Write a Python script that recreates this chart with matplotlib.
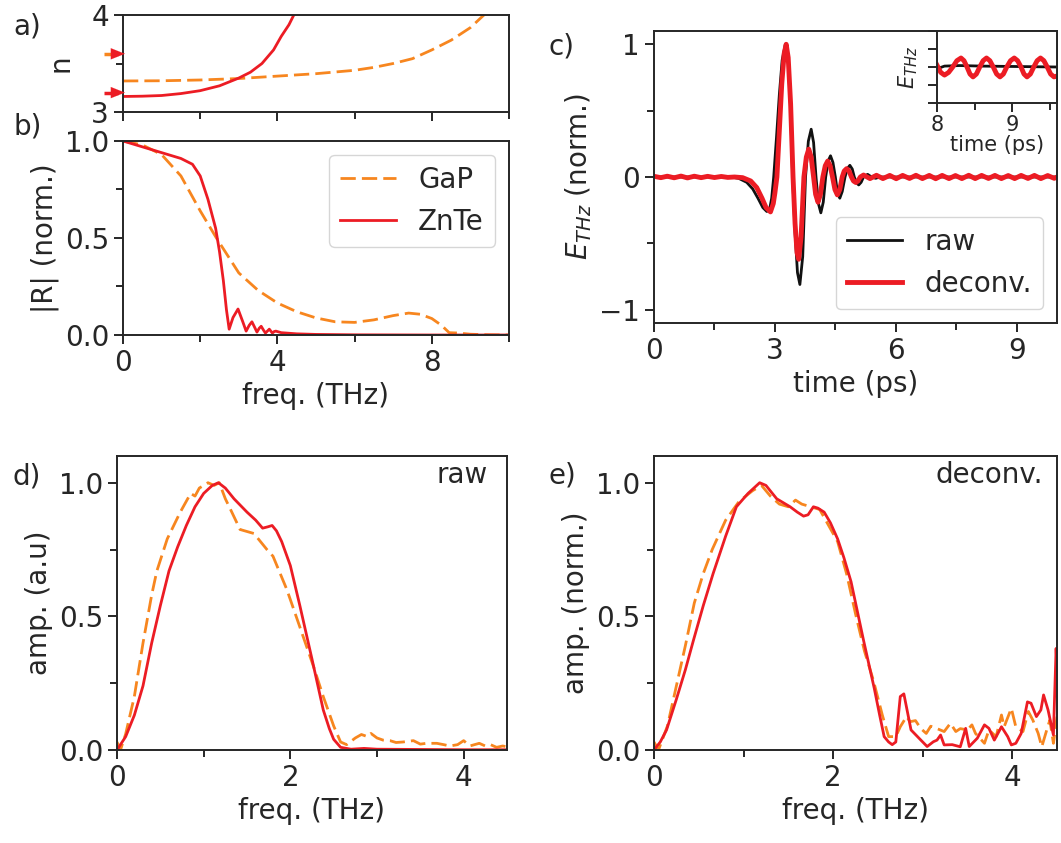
import matplotlib
matplotlib.use("Agg")
import matplotlib.pyplot as plt
from matplotlib.ticker import MultipleLocator, FixedLocator, NullFormatter, FormatStrFormatter

# ---- colours ----
ORANGE = '#f7861f'
RED = '#ec1c24'
INK = '#262626'

# ---- a) refractive index ----
f_n_gap = [0, 1, 2, 3, 4, 5, 6, 6.5, 7, 7.5, 8, 8.5, 9, 9.35, 9.6]
n_gap = [3.32, 3.322, 3.33, 3.345, 3.37, 3.395, 3.43, 3.46, 3.5, 3.55, 3.64, 3.74, 3.87, 4.0, 4.12]
f_n_znte = [0, 0.5, 1, 1.5, 2, 2.5, 3, 3.3, 3.6, 3.9, 4.1, 4.3, 4.45, 4.55]
n_znte = [3.16, 3.163, 3.17, 3.19, 3.22, 3.27, 3.35, 3.41, 3.5, 3.64, 3.78, 3.9, 4.02, 4.15]
n_group = [3.6, 3.2]   # arrows on the left axis (GaP, ZnTe)

# ---- b) response function ----
f_R_gap = [0, 0.5, 1.0, 1.5, 2.0, 2.42, 3.0, 3.5, 4.0, 4.5, 5.0, 5.5, 6.0, 6.5,
           7.0, 7.4, 7.7, 8.0, 8.25, 8.45, 8.7, 9.0, 9.5, 10.0]
R_gap = [1.0, 0.98, 0.93, 0.82, 0.64, 0.5, 0.32, 0.23, 0.165, 0.12, 0.088, 0.068, 0.065, 0.078,
         0.1, 0.113, 0.107, 0.085, 0.05, 0.012, 0.01, 0.004, 0.001, 0.0]
f_R_znte = [0, 0.5, 1.0, 1.5, 1.8, 2.0, 2.2, 2.4, 2.5, 2.6, 2.68, 2.75, 2.85, 2.98, 3.1, 3.19,
            3.27, 3.34, 3.41, 3.47, 3.53, 3.58, 3.64, 3.69, 3.74, 3.79, 3.83, 3.87, 3.92, 3.96,
            4.1, 4.5, 5.0, 6.0, 8.0, 10.0]
R_znte = [1.0, 0.97, 0.94, 0.91, 0.88, 0.82, 0.7, 0.55, 0.43, 0.28, 0.13, 0.03, 0.09, 0.134, 0.07, 0.02,
          0.05, 0.068, 0.04, 0.015, 0.035, 0.045, 0.025, 0.01, 0.02, 0.03, 0.02, 0.01, 0.018, 0.02,
          0.012, 0.006, 0.003, 0.001, 0.0, 0.0]

# ---- c) time traces ----
t_raw = [0.0, 1.0, 1.9, 2.1, 2.3, 2.45, 2.58, 2.7, 2.8, 2.87, 2.92, 2.97, 3.04, 3.11, 3.18, 3.26,
         3.33, 3.39, 3.44, 3.5, 3.56, 3.62, 3.69, 3.76, 3.83, 3.9, 3.96, 4.02, 4.08, 4.14, 4.2,
         4.26, 4.32, 4.38, 4.44, 4.5, 4.55, 4.61, 4.67, 4.74, 4.8, 4.86, 4.92, 4.97, 5.03, 5.08,
         5.14, 5.2, 5.3, 5.4, 5.5, 5.6, 6.0, 7.0, 8.0, 9.0, 10.0]
e_raw = [0.0, 0.0, 0.0, -0.01, -0.04, -0.09, -0.16, -0.23, -0.26, -0.24, -0.16, 0.0, 0.3, 0.62, 0.88, 1.0,
         0.88, 0.5, 0.0, -0.42, -0.72, -0.81, -0.6, 0.0, 0.27, 0.36, 0.26, 0.0, -0.2, -0.27, -0.19,
         0.0, 0.12, 0.16, 0.11, 0.0, -0.11, -0.16, -0.11, 0.0, 0.065, 0.088, 0.06, 0.0, -0.045, -0.06,
         -0.04, 0.0, 0.02, 0.0, -0.01, 0.0, 0.0, 0.0, 0.0, 0.0, 0.0]
t_dec = [0.0, 0.17, 0.33, 0.5, 0.67, 0.83, 1.0, 1.17, 1.33, 1.5, 1.67, 1.83, 2.0, 2.2, 2.4, 2.55,
         2.68, 2.78, 2.89, 2.96, 3.0, 3.05, 3.11, 3.17, 3.23, 3.28, 3.33, 3.39, 3.45, 3.5, 3.55,
         3.59, 3.65, 3.72, 3.78, 3.84, 3.9, 3.96, 4.01, 4.07, 4.13, 4.19, 4.25, 4.31, 4.37, 4.43,
         4.49, 4.55, 4.61, 4.67, 4.72, 4.78, 4.84, 4.9, 4.95, 5.01, 5.06, 5.12, 5.2, 5.36, 5.52,
         5.68, 5.85, 6.01, 6.17, 6.34, 6.5, 6.66, 6.83, 6.99, 7.15, 7.32, 7.48, 7.64, 7.81, 7.97,
         8.13, 8.3, 8.46, 8.62, 8.79, 8.95, 9.11, 9.28, 9.44, 9.6, 9.77, 9.93, 10.0]
e_dec = [0.005, -0.005, 0.006, -0.006, 0.007, -0.007, 0.006, -0.005, 0.005, -0.004, 0.004, -0.003,
         0.0, -0.005, -0.03, -0.08, -0.16, -0.23, -0.263, -0.2, -0.12, 0.0, 0.35, 0.7, 0.93, 1.0,
         0.9, 0.55, 0.0, -0.35, -0.57, -0.62, -0.45, 0.0, 0.15, 0.21, 0.15, 0.0, -0.13, -0.19,
         -0.13, 0.0, 0.085, 0.12, 0.085, 0.0, -0.095, -0.135, -0.095, 0.0, 0.045, 0.063, 0.045,
         0.0, -0.03, -0.042, -0.03, 0.0, 0.015, -0.012, 0.013, -0.012, 0.012, -0.013, 0.012,
         -0.011, 0.013, -0.012, 0.012, -0.013, 0.012, -0.012, 0.011, -0.012, 0.013, -0.012, 0.012,
         -0.011, 0.012, -0.012, 0.011, -0.012, 0.012, -0.011, 0.012, -0.012, 0.011, -0.01, 0.0]

# inset (zoom on the tail)
t_ins_dec = [8.0, 8.05, 8.1, 8.155, 8.21, 8.265, 8.32, 8.36, 8.4, 8.44, 8.48, 8.525, 8.57, 8.615,
             8.66, 8.705, 8.75, 8.795, 8.84, 8.885, 8.93, 8.98, 9.03, 9.075, 9.12, 9.16, 9.2,
             9.245, 9.29, 9.335, 9.38, 9.425, 9.47, 9.515, 9.56, 9.6]
e_ins_dec = [0.001, -0.003, -0.0045, -0.003, 0.0, 0.0035, 0.005, 0.0035, 0.0, -0.0039, -0.0055,
             -0.0039, 0.0, 0.0035, 0.005, 0.0035, 0.0, -0.0039, -0.0055, -0.0039, 0.0, 0.0035,
             0.005, 0.0035, 0.0, -0.0039, -0.0055, -0.0039, 0.0, 0.0035, 0.005, 0.0035, 0.0,
             -0.0039, -0.0055, -0.005]
t_ins_raw = [8.0, 8.1, 8.3, 8.6, 9.0, 9.6]
e_ins_raw = [-0.001, 0.0005, 0.0008, 0.0005, 0.0003, 0.0]

# ---- d) raw spectra ----
f_d_znte = [0, 0.1, 0.2, 0.3, 0.4, 0.5, 0.6, 0.7, 0.8, 0.9, 1.0, 1.1, 1.17, 1.25, 1.35, 1.5,
            1.6, 1.68, 1.74, 1.79, 1.84, 1.9, 2.0, 2.11, 2.25, 2.38, 2.45, 2.5, 2.58, 2.7,
            2.85, 3.0, 3.5, 4.0, 4.5]
A_d_znte = [0.0, 0.05, 0.13, 0.24, 0.4, 0.54, 0.67, 0.76, 0.84, 0.91, 0.96, 0.99, 1.0, 0.98, 0.94, 0.89,
            0.86, 0.83, 0.835, 0.84, 0.82, 0.78, 0.69, 0.54, 0.34, 0.15, 0.08, 0.04, 0.01, 0.003,
            0.006, 0.003, 0.002, 0.001, 0.001]
f_d_gap = [0, 0.04, 0.1, 0.2, 0.3, 0.4, 0.46, 0.58, 0.73, 0.85, 0.9, 0.95, 1.0, 1.05, 1.12, 1.18,
           1.25, 1.31, 1.42, 1.58, 1.73, 1.8, 1.96, 2.11, 2.27, 2.38, 2.5, 2.58, 2.65, 2.75, 2.82,
           2.89, 2.93, 3.0, 3.07, 3.15, 3.22, 3.3, 3.42, 3.5, 3.57, 3.69, 3.77, 3.84, 3.93, 4.0,
           4.07, 4.18, 4.25, 4.31, 4.38, 4.45, 4.5]
A_d_gap = [0.03, 0.0, 0.06, 0.2, 0.4, 0.58, 0.67, 0.79, 0.89, 0.96, 0.95, 0.98, 0.99, 1.0, 0.99, 1.0,
           0.94, 0.9, 0.825, 0.81, 0.75, 0.725, 0.6, 0.46, 0.31, 0.2, 0.09, 0.03, 0.02, 0.045, 0.058,
           0.05, 0.062, 0.045, 0.037, 0.035, 0.028, 0.03, 0.035, 0.022, 0.025, 0.025, 0.02, 0.015,
           0.02, 0.035, 0.015, 0.025, 0.015, 0.02, 0.01, 0.015, 0.012]

# ---- e) deconvolved spectra ----
f_e_znte = [0, 0.07, 0.14, 0.25, 0.35, 0.44, 0.55, 0.66, 0.8, 0.92, 1.05, 1.18, 1.25, 1.37, 1.52,
            1.6, 1.67, 1.72, 1.78, 1.83, 1.9, 1.97, 2.05, 2.12, 2.2, 2.27, 2.34, 2.4, 2.46, 2.52,
            2.57, 2.62, 2.66, 2.7, 2.75, 2.79, 2.87, 2.98, 3.05, 3.12, 3.16, 3.2, 3.24, 3.33, 3.42,
            3.48, 3.52, 3.61, 3.69, 3.74, 3.8, 3.88, 3.95, 3.99, 4.04, 4.1, 4.17, 4.21, 4.27, 4.32,
            4.35, 4.4, 4.46, 4.49, 4.5]
A_e_znte = [0.0, 0.03, 0.075, 0.19, 0.3, 0.41, 0.54, 0.66, 0.8, 0.91, 0.96, 1.0, 0.99, 0.94, 0.91,
            0.89, 0.875, 0.88, 0.91, 0.905, 0.89, 0.85, 0.79, 0.72, 0.63, 0.52, 0.41, 0.32, 0.23, 0.13,
            0.05, 0.03, 0.02, 0.03, 0.2, 0.21, 0.075, 0.037, 0.013, 0.031, 0.037, 0.056, 0.019, 0.02,
            0.012, 0.081, 0.013, 0.044, 0.094, 0.081, 0.037, 0.087, 0.05, 0.019, 0.025, 0.062, 0.18,
            0.175, 0.125, 0.15, 0.206, 0.15, 0.056, 0.38, 0.3]
f_e_gap = [0, 0.05, 0.15, 0.25, 0.35, 0.45, 0.55, 0.65, 0.8, 0.95, 1.1, 1.2, 1.3, 1.4, 1.5, 1.58,
           1.65, 1.75, 1.85, 1.95, 2.05, 2.15, 2.25, 2.35, 2.45, 2.55, 2.62, 2.7, 2.75, 2.82, 2.86,
           2.92, 2.98, 3.04, 3.09, 3.16, 3.24, 3.31, 3.37, 3.42, 3.5, 3.55, 3.59, 3.69, 3.74, 3.82,
           3.88, 3.91, 3.99, 4.04, 4.12, 4.18, 4.23, 4.29, 4.33, 4.39, 4.42, 4.46, 4.5]
A_e_gap = [0.03, 0.0, 0.09, 0.24, 0.39, 0.55, 0.66, 0.75, 0.86, 0.93, 0.97, 0.99, 0.95, 0.92, 0.91,
           0.935, 0.92, 0.91, 0.9, 0.84, 0.78, 0.66, 0.51, 0.37, 0.26, 0.13, 0.05, 0.05, 0.087, 0.125,
           0.106, 0.11, 0.08, 0.062, 0.089, 0.08, 0.069, 0.1, 0.069, 0.08, 0.075, 0.094, 0.062, 0.025,
           0.075, 0.05, 0.131, 0.087, 0.156, 0.087, 0.069, 0.144, 0.112, 0.062, 0.012, 0.08, 0.112,
           0.025, 0.125]

plt.rcParams.update({
    'font.family': 'DejaVu Sans',
    'font.size': 20,
    'mathtext.fontset': 'dejavusans',
    'axes.linewidth': 1.4,
    'axes.edgecolor': INK,
    'axes.labelcolor': INK,
    'text.color': INK,
    'xtick.color': INK,
    'ytick.color': INK,
    'xtick.major.size': 6.5,
    'ytick.major.size': 6.5,
    'xtick.minor.size': 5,
    'ytick.minor.size': 5,
    'xtick.major.width': 1.4,
    'ytick.major.width': 1.4,
    'xtick.minor.width': 1.4,
    'ytick.minor.width': 1.4,
    'legend.edgecolor': '0.8',
    'legend.framealpha': 0.8,
})

DASH = (5.5, 2.2)
LW = 2.0

fig = plt.figure(figsize=(10.61, 8.43), dpi=100)
W, H = 1061.0, 843.0


def box(x0, y0, x1, y1):
    # pixel box -> figure fraction
    return [x0 / W, 1 - y1 / H, (x1 - x0) / W, (y1 - y0) / H]


ax_a = fig.add_axes(box(123, 15, 509, 112))
ax_b = fig.add_axes(box(123, 141, 509, 335))
ax_c = fig.add_axes(box(654, 31, 1057, 323))
ax_d = fig.add_axes(box(117, 456, 507, 750))
ax_e = fig.add_axes(box(654, 456, 1057, 750))
ax_in = fig.add_axes(box(937, 31, 1057, 103))

# ----- a) -----
ax_a.plot(f_n_gap, n_gap, color=ORANGE, lw=LW, dashes=DASH)
ax_a.plot(f_n_znte, n_znte, color=RED, lw=LW)
ax_a.set_xlim(0, 10)
ax_a.set_ylim(3, 4)
ax_a.xaxis.set_major_locator(MultipleLocator(4))
ax_a.xaxis.set_minor_locator(FixedLocator([2, 6, 10]))
ax_a.xaxis.set_major_formatter(NullFormatter())
ax_a.yaxis.set_major_locator(MultipleLocator(1))
ax_a.yaxis.set_minor_locator(MultipleLocator(0.5))
ax_a.set_ylabel('n', labelpad=12)
for n, c in zip(n_group, [ORANGE, RED]):
    ax_a.plot([-0.48, -0.12], [n, n], color=c, lw=2.5, clip_on=False, solid_capstyle='butt')
    ax_a.annotate('', xy=(0.05, n), xytext=(-0.25, n),
                  arrowprops=dict(arrowstyle='-|>,head_length=0.5,head_width=0.2',
                                  color=RED, lw=0.1, shrinkA=0, shrinkB=0),
                  annotation_clip=False)

# ----- b) -----
ax_b.plot(f_R_gap, R_gap, color=ORANGE, lw=LW, dashes=DASH, label='GaP')
ax_b.plot(f_R_znte, R_znte, color=RED, lw=LW, label='ZnTe')
ax_b.set_xlim(0, 10)
ax_b.set_ylim(0, 1.0)
ax_b.xaxis.set_major_locator(MultipleLocator(4))
ax_b.xaxis.set_minor_locator(FixedLocator([2, 6, 10]))
ax_b.yaxis.set_major_locator(MultipleLocator(0.5))
ax_b.yaxis.set_minor_locator(MultipleLocator(0.25))
ax_b.yaxis.set_major_formatter(FormatStrFormatter('%.1f'))
ax_b.set_xlabel('freq. (THz)')
ax_b.set_ylabel('|R| (norm.)')
ax_b.legend(loc='upper right')

# ----- c) -----
ax_c.plot(t_raw, e_raw, color='#111111', lw=2.0, label='raw')
ax_c.plot(t_dec, e_dec, color=RED, lw=3.5, label='deconv.')
ax_c.set_xlim(0, 10)
ax_c.set_ylim(-1.1, 1.1)
ax_c.xaxis.set_major_locator(MultipleLocator(3))
ax_c.xaxis.set_minor_locator(MultipleLocator(1.5))
ax_c.yaxis.set_major_locator(MultipleLocator(1))
ax_c.yaxis.set_minor_locator(MultipleLocator(0.5))
ax_c.set_xlabel('time (ps)')
ax_c.set_ylabel(r'$E_{THz}$ (norm.)')
ax_c.legend(loc='lower right')

# inset
ax_in.plot(t_ins_raw, e_ins_raw, color='#111111', lw=2.0)
ax_in.plot(t_ins_dec, e_ins_dec, color=RED, lw=3.5)
ax_in.set_xlim(8, 9.6)
ax_in.set_ylim(-0.02, 0.02)
ax_in.xaxis.set_major_locator(MultipleLocator(1))
ax_in.xaxis.set_minor_locator(MultipleLocator(0.5))
ax_in.yaxis.set_major_locator(MultipleLocator(0.01))
ax_in.yaxis.set_major_formatter(NullFormatter())
ax_in.tick_params(labelsize=15, pad=2)
ax_in.set_xlabel('time (ps)', fontsize=15, labelpad=0)
ax_in.set_ylabel(r'$E_{THz}$', fontsize=15, labelpad=4)

# ----- d) / e) -----
for ax in (ax_d, ax_e):
    ax.set_xlim(0, 4.5)
    ax.set_ylim(0, 1.1)
    ax.xaxis.set_major_locator(MultipleLocator(2))
    ax.xaxis.set_minor_locator(MultipleLocator(1))
    ax.yaxis.set_major_locator(MultipleLocator(0.5))
    ax.yaxis.set_minor_locator(MultipleLocator(0.25))
    ax.yaxis.set_major_formatter(FormatStrFormatter('%.1f'))
    ax.set_xlabel('freq. (THz)')

ax_d.plot(f_d_gap, A_d_gap, color=ORANGE, lw=LW, dashes=DASH)
ax_d.plot(f_d_znte, A_d_znte, color=RED, lw=LW)
ax_d.set_ylabel('amp. (a.u)')
ax_d.text(0.95, 0.935, 'raw', transform=ax_d.transAxes, ha='right', va='center')

ax_e.plot(f_e_gap, A_e_gap, color=ORANGE, lw=LW, dashes=DASH)
ax_e.plot(f_e_znte, A_e_znte, color=RED, lw=LW)
ax_e.set_ylabel('amp. (norm.)')
ax_e.text(0.965, 0.935, 'deconv.', transform=ax_e.transAxes, ha='right', va='center')

# panel letters
for lbl, x, y in [('a)', 13, 27), ('b)', 13, 126), ('c)', 548, 47), ('d)', 13, 477), ('e)', 549, 476)]:
    fig.text(x / W, 1 - y / H, lbl, ha='left', va='center')

fig.savefig('out.png', dpi=100)
